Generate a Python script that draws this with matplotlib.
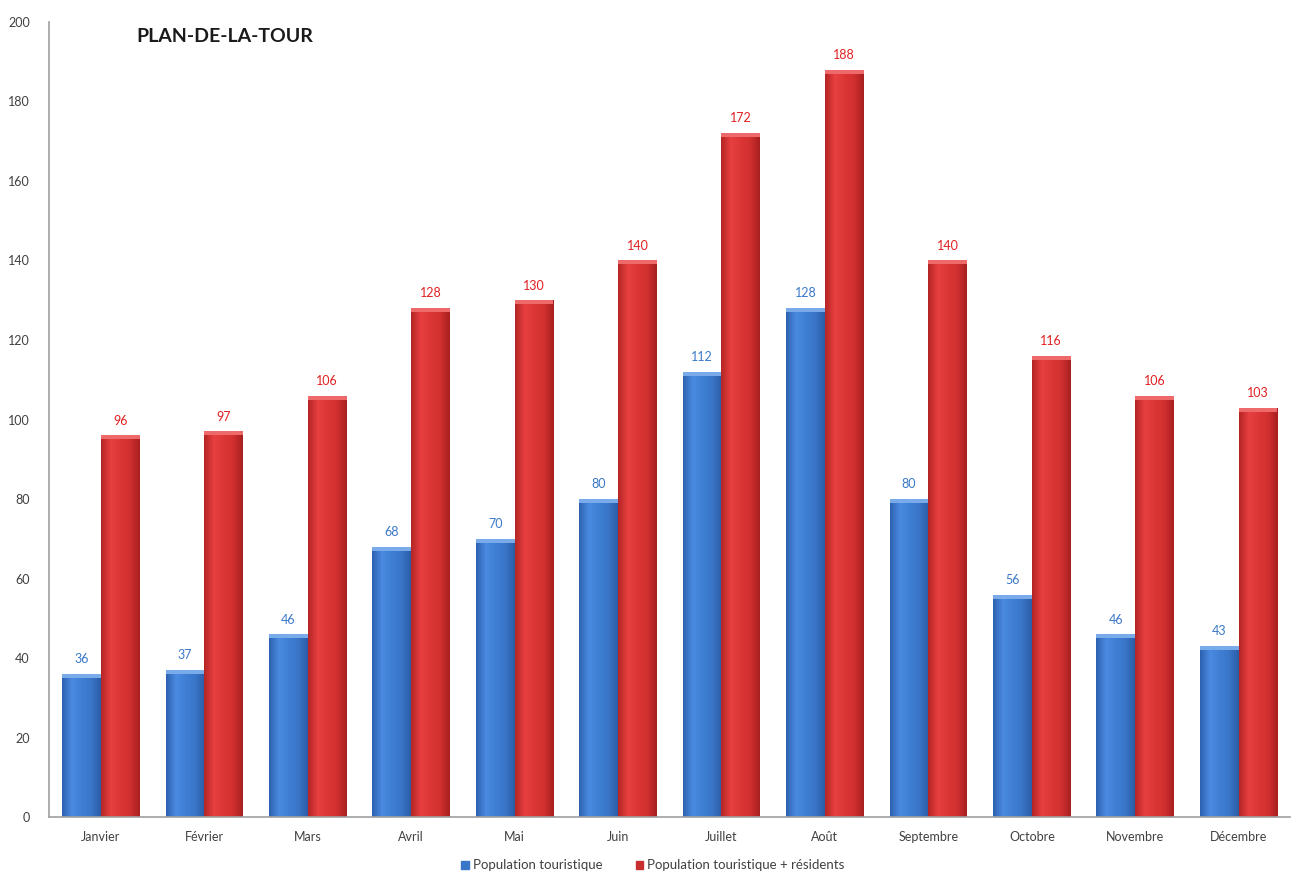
# -*- coding: utf-8 -*-
# histogramme population touristique - Plan-de-la-Tour

import numpy as np
import matplotlib.pyplot as plt
from matplotlib.colors import LinearSegmentedColormap

# %% données
mois = ['Janvier', 'Février', 'Mars', 'Avril', 'Mai', 'Juin', 'Juillet',
        'Août', 'Septembre', 'Octobre', 'Novembre', 'Décembre']
pop_touristique = [36, 37, 46, 68, 70, 80, 112, 128, 80, 56, 46, 43]
pop_totale = [96, 97, 106, 128, 130, 140, 172, 188, 140, 116, 106, 103]
series = ['Population touristique', 'Population touristique + résidents']

plt.rcParams['font.family'] = ['Lato', 'DejaVu Sans']

# dégradés façon Excel (sombre sur les bords, clair au milieu)
cmap_bleu = LinearSegmentedColormap.from_list(
    'bleu', ['#2d62b0', '#4a8ae0', '#3f7fd4', '#3a76c8', '#2c5da8'])
cmap_rouge = LinearSegmentedColormap.from_list(
    'rouge', ['#b52525', '#e84040', '#dc3636', '#d23030', '#a82020'])

fig = plt.figure(figsize=(12.93, 8.75), dpi=100)
ax = fig.add_axes([0.038, 0.066, 0.960, 0.909])

x = np.arange(len(mois))
larg = 0.375
grad = np.linspace(0, 1, 64).reshape(1, -1)


def barres(xpos, valeurs, cmap, coul_haut, coul_txt):
    bars = ax.bar(xpos, valeurs, larg, color='none', edgecolor='none')
    for b, v in zip(bars, valeurs):
        x0, w = b.get_x(), b.get_width()
        im = ax.imshow(grad, cmap=cmap, aspect='auto',
                       extent=[x0, x0 + w, 0, v], zorder=2)
        im.set_clip_path(b)
        # petit bord clair en haut
        ax.fill_between([x0, x0 + w], v - 1.0, v, color=coul_haut,
                        zorder=3, lw=0)
        ax.text(x0 + w / 2, v + 2.2, f'{v}', ha='center', va='bottom',
                color=coul_txt, fontsize=9)
    return bars


b1 = barres(x - larg / 2, pop_touristique, cmap_bleu, '#79aaea', '#3a78c8')
b2 = barres(x + larg / 2, pop_totale, cmap_rouge, '#ee6a6a', '#e02020')

ax.set_xlim(-0.5, len(mois) - 0.5)
ax.set_ylim(0, 200)
ax.set_yticks(np.arange(0, 201, 20))
ax.set_xticks(x)
ax.set_xticklabels(mois)
ax.tick_params(axis='both', labelsize=9, colors='#404040', length=0)
ax.tick_params(axis='y', pad=14)
ax.tick_params(axis='x', pad=10)

for s in ['top', 'right']:
    ax.spines[s].set_visible(False)
for s in ['left', 'bottom']:
    ax.spines[s].set_color('#a0a0a0')
    ax.spines[s].set_linewidth(1.2)

ax.text(0.07, 0.992, 'PLAN-DE-LA-TOUR', transform=ax.transAxes,
        fontsize=14, fontweight='bold', color='#1a1a1a', va='top')

# légende
h1 = plt.Rectangle((0, 0), 1, 1, color='#3a76c8')
h2 = plt.Rectangle((0, 0), 1, 1, color='#c83030')
fig.legend([h1, h2], series, loc='center', bbox_to_anchor=(0.505, 0.011),
           ncol=2, frameon=False, fontsize=9.5, handlelength=0.6,
           handleheight=0.6, handletextpad=0.3, columnspacing=2.5,
           labelcolor='#404040')

fig.savefig('out.png', dpi=100)
